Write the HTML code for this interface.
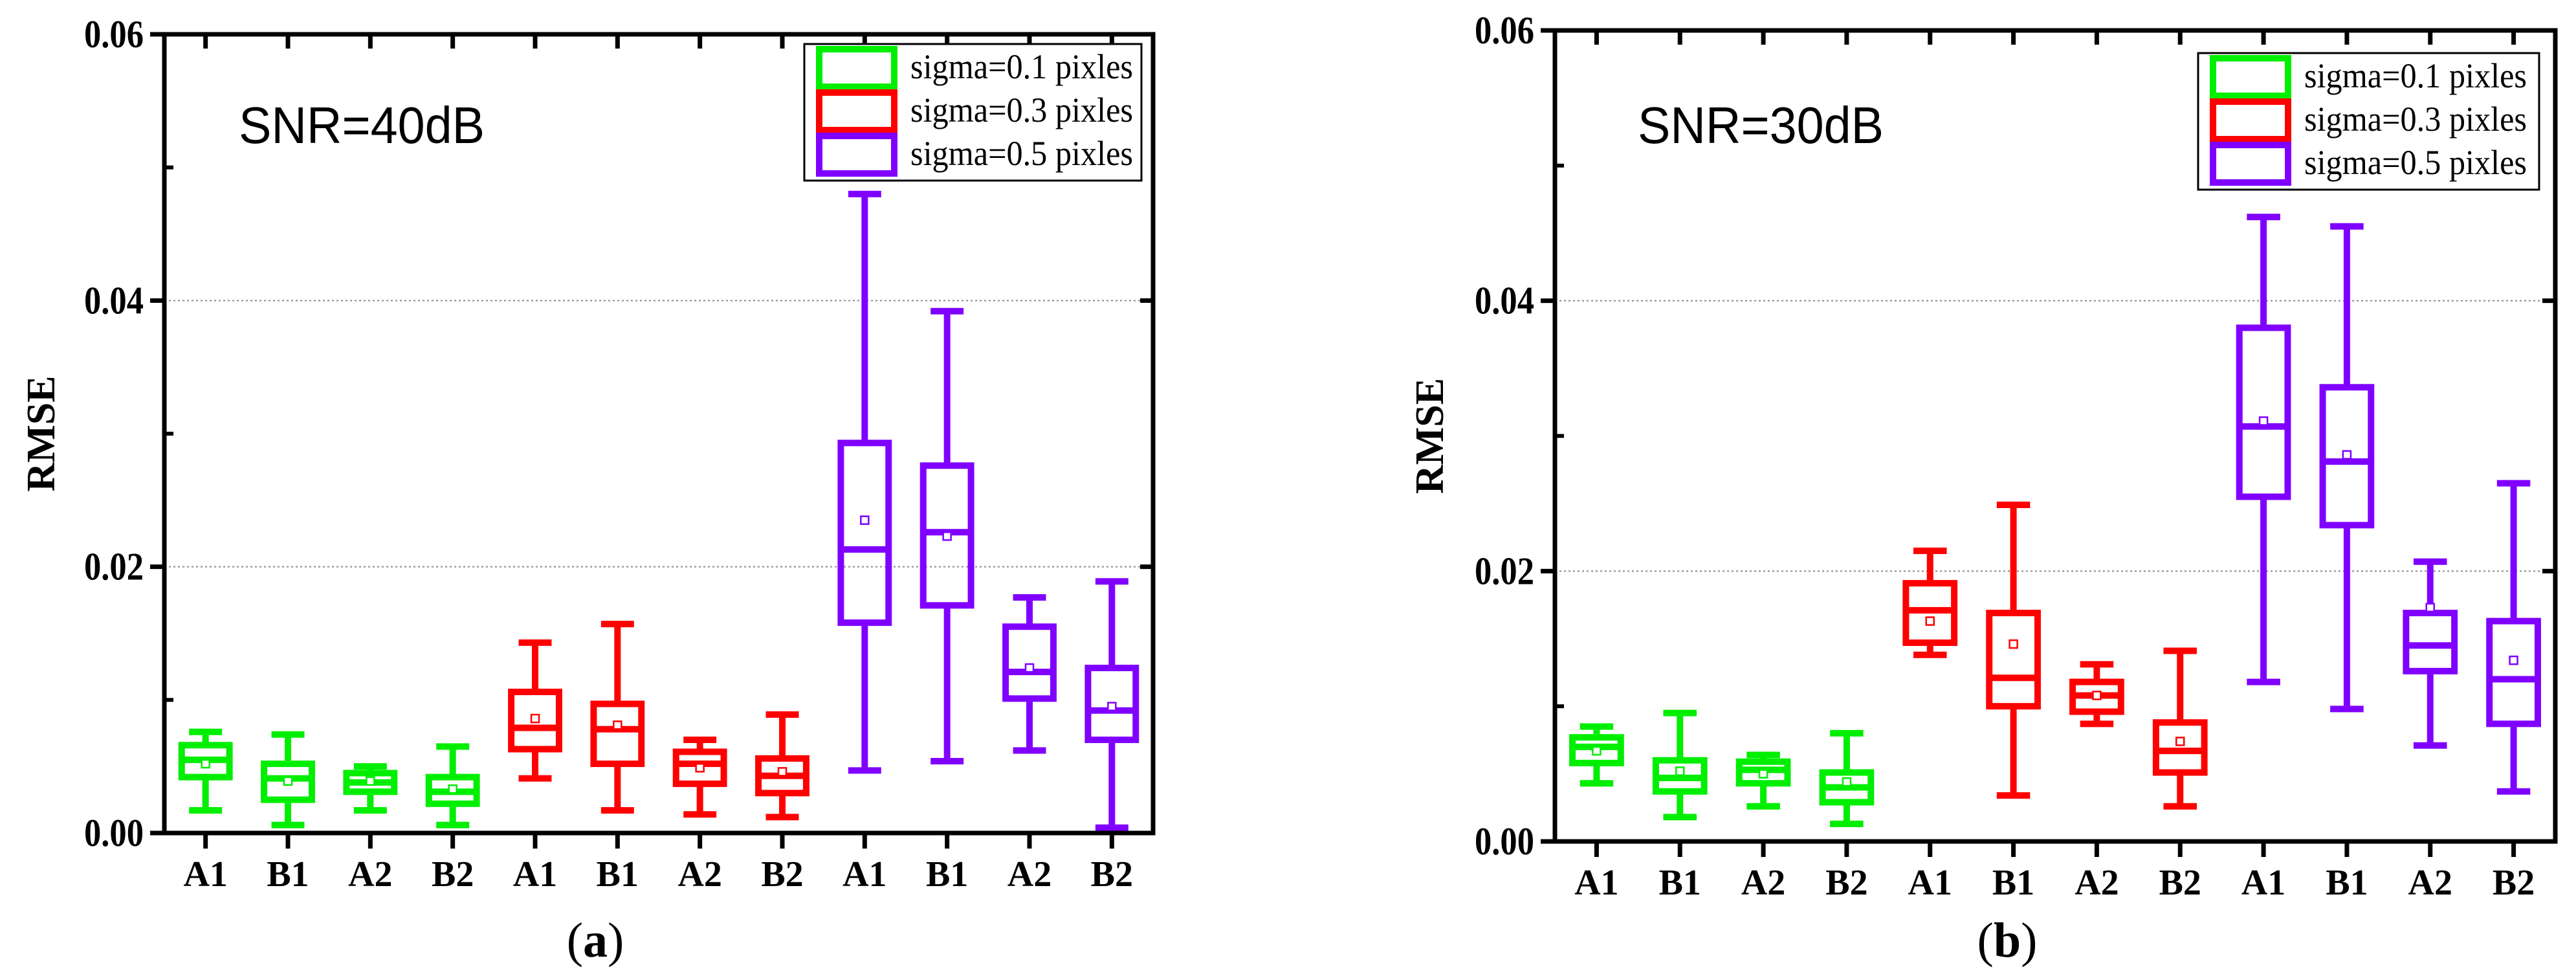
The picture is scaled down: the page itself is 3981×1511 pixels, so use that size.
<!DOCTYPE html>
<html><head><meta charset="utf-8"><style>
html,body{margin:0;padding:0;background:#fff;}
svg{display:block;}
</style></head><body>
<svg id="fig" width="3981" height="1511" viewBox="0 0 3981 1511" xmlns="http://www.w3.org/2000/svg"></svg>
<script>
const categories = ["A1","B1","A2","B2","A1","B1","A2","B2","A1","B1","A2","B2"];
const groupColors = ["#00ee00","#ff0000","#8000ff"];
const legendLabels = ["sigma=0.1 pixles","sigma=0.3 pixles","sigma=0.5 pixles"];
const yTicks = [0, 0.02, 0.04, 0.06];
const yTickLabels = ["0.00","0.02","0.04","0.06"];
// chart (a) SNR=40dB
const aWhiskHi = [0.0076,0.0074,0.0050,0.0065,0.0143,0.0157,0.0070,0.0089,0.0480,0.0392,0.0177,0.0189];
const aQ3      = [0.0066,0.0052,0.0045,0.0042,0.0106,0.0097,0.0061,0.0056,0.0293,0.0276,0.0155,0.0124];
const aMedian  = [0.0055,0.0041,0.0038,0.0031,0.0079,0.0078,0.0052,0.0043,0.0213,0.0226,0.0121,0.0092];
const aQ1      = [0.0042,0.0025,0.0031,0.0022,0.0063,0.0052,0.0037,0.0030,0.0158,0.0171,0.0101,0.0070];
const aWhiskLo = [0.0017,0.0006,0.0017,0.0006,0.0041,0.0017,0.0014,0.0012,0.0047,0.0054,0.0062,0.0004];
const aMean    = [0.0052,0.0039,0.0039,0.0033,0.0086,0.0081,0.0049,0.0046,0.0235,0.0223,0.0124,0.0095];
// chart (b) SNR=30dB
const bWhiskHi = [0.0085,0.0095,0.0064,0.0080,0.0215,0.0249,0.0131,0.0141,0.0462,0.0455,0.0207,0.0265];
const bQ3      = [0.0077,0.0060,0.0059,0.0051,0.0191,0.0169,0.0118,0.0088,0.0380,0.0336,0.0169,0.0163];
const bMedian  = [0.0070,0.0047,0.0053,0.0040,0.0171,0.0121,0.0108,0.0067,0.0307,0.0281,0.0145,0.0120];
const bQ1      = [0.0058,0.0037,0.0043,0.0029,0.0147,0.0100,0.0096,0.0051,0.0255,0.0234,0.0126,0.0087];
const bWhiskLo = [0.0043,0.0018,0.0026,0.0013,0.0138,0.0034,0.0087,0.0026,0.0118,0.0098,0.0071,0.0037];
const bMean    = [0.0067,0.0052,0.0050,0.0044,0.0163,0.0146,0.0108,0.0074,0.0311,0.0286,0.0173,0.0134];

const NS="http://www.w3.org/2000/svg";
const svg=document.getElementById('fig');
function mk(tag,attrs,parent){const e=document.createElementNS(NS,tag);for(const k in attrs)e.setAttribute(k,attrs[k]);(parent||svg).appendChild(e);return e;}

function drawChart(cfg){
  const g=mk('g',{});
  
  
  const L=cfg.left,R=cfg.right,T=cfg.top,B=cfg.bottom;
  const yMax=0.06;
  const y=v=>B-(v/yMax)*(B-T);
  const band=(R-L)/categories.length;
  const x=i=>L+band*(i+0.5);
  [0.02,0.04].forEach(v=>{
    const gl=mk('line',{x1:L,x2:R,y1:y(v),y2:y(v),stroke:'#888','stroke-width':2,'stroke-dasharray':'3,4'},g);
    
    
  });
  [0.01,0.03,0.05].forEach(v=>{
    mk('line',{x1:L,x2:L+14,y1:y(v),y2:y(v),stroke:'#000','stroke-width':6},g);
  });
  yTicks.forEach((v,i)=>{
    mk('line',{x1:L-22,x2:L,y1:y(v),y2:y(v),stroke:'#000','stroke-width':7},g);
    mk('line',{x1:R-20,x2:R,y1:y(v),y2:y(v),stroke:'#000','stroke-width':7},g);
    const t=mk('text',{x:L-32,y:y(v)+20,'text-anchor':'end','font-family':'"Liberation Serif",serif','font-weight':'bold','font-size':60,textLength:92,lengthAdjust:'spacingAndGlyphs'},g);
    t.textContent=yTickLabels[i];
    
    
  });
  categories.forEach((c,i)=>{
    mk('line',{x1:x(i),x2:x(i),y1:B,y2:B+24,stroke:'#000','stroke-width':7},g);
    mk('line',{x1:x(i),x2:x(i),y1:T,y2:T+22,stroke:'#000','stroke-width':7},g);
    const t=mk('text',{x:x(i),y:B+82,'text-anchor':'middle','font-family':'"Liberation Serif",serif','font-weight':'bold','font-size':56},g);
    t.textContent=c;
    
    
  });
  const bw=band*0.58, cw=band*0.4;
  categories.forEach((c,i)=>{
    const col=groupColors[Math.floor(i/4)];
    const bg=mk('g',{stroke:col,'stroke-width':10,fill:'none'},g);
    
    
    const cx=x(i);
    mk('line',{x1:cx,x2:cx,y1:y(cfg.hi[i]),y2:y(cfg.q3[i])},bg);
    mk('line',{x1:cx,x2:cx,y1:y(cfg.q1[i]),y2:y(cfg.lo[i])},bg);
    mk('line',{x1:cx-cw/2,x2:cx+cw/2,y1:y(cfg.hi[i]),y2:y(cfg.hi[i])},bg);
    mk('line',{x1:cx-cw/2,x2:cx+cw/2,y1:y(cfg.lo[i]),y2:y(cfg.lo[i])},bg);
    mk('rect',{x:cx-bw/2,y:y(cfg.q3[i]),width:bw,height:y(cfg.q1[i])-y(cfg.q3[i])},bg);
    mk('line',{x1:cx-bw/2,x2:cx+bw/2,y1:y(cfg.med[i]),y2:y(cfg.med[i])},bg);
    mk('rect',{x:cx-6,y:y(cfg.mean[i])-6,width:12,height:12,'stroke-width':2.5,fill:'#fff'},bg);
  });
  const fr=mk('rect',{x:L,y:T,width:R-L,height:B-T,fill:'none',stroke:'#000','stroke-width':7},g);
  
  
  const yt=mk('text',{x:0,y:0,transform:`translate(${cfg.ytitleX},${(T+B)/2}) rotate(-90)`,'text-anchor':'middle','font-family':'"Liberation Serif",serif','font-weight':'bold','font-size':62},g);
  yt.textContent='RMSE';
  
  
  const st=mk('text',{x:cfg.snrX,y:221,'font-family':'"Liberation Sans",sans-serif','font-size':80,textLength:380,lengthAdjust:'spacingAndGlyphs'},g);
  st.textContent=cfg.snr;
  
  
  const lg=mk('g',{},g);
  
  
  mk('rect',{x:cfg.lgX,y:cfg.lgY,width:cfg.lgW,height:211,fill:'#fff',stroke:'#000','stroke-width':3},lg);
  legendLabels.forEach((lab,k)=>{
    const cy=cfg.lgY+37+k*67;
    const e=mk('g',{},lg);
    
    
    mk('rect',{x:cfg.lgX+23,y:cy-29,width:116,height:58,fill:'none',stroke:groupColors[k],'stroke-width':10},e);
    const t=mk('text',{x:cfg.lgX+164,y:cy+16,'font-family':'"Liberation Serif",serif','font-size':54,textLength:344,lengthAdjust:'spacingAndGlyphs'},e);
    t.textContent=lab;
  });
  const cap=mk('text',{x:cfg.capX,y:1478,'text-anchor':'middle','font-family':'"Liberation Serif",serif','font-size':76},g);
  cap.innerHTML='(<tspan font-weight="bold">'+cfg.cap+'</tspan>)';
  
  
}

drawChart({name:'chart-a-snr40',left:254,right:1782,top:53,bottom:1287,ytitleX:84,snrX:369,snr:'SNR=40dB',
  lgX:1243,lgY:68,lgW:521,capX:920,cap:'a',
  hi:aWhiskHi,q3:aQ3,med:aMedian,q1:aQ1,lo:aWhiskLo,mean:aMean});
drawChart({name:'chart-b-snr30',left:2403,right:3949,top:47,bottom:1300,ytitleX:2230,snrX:2531,snr:'SNR=30dB',
  lgX:3397,lgY:82,lgW:527,capX:3102,cap:'b',
  hi:bWhiskHi,q3:bQ3,med:bMedian,q1:bQ1,lo:bWhiskLo,mean:bMean});
</script>
</body></html>
